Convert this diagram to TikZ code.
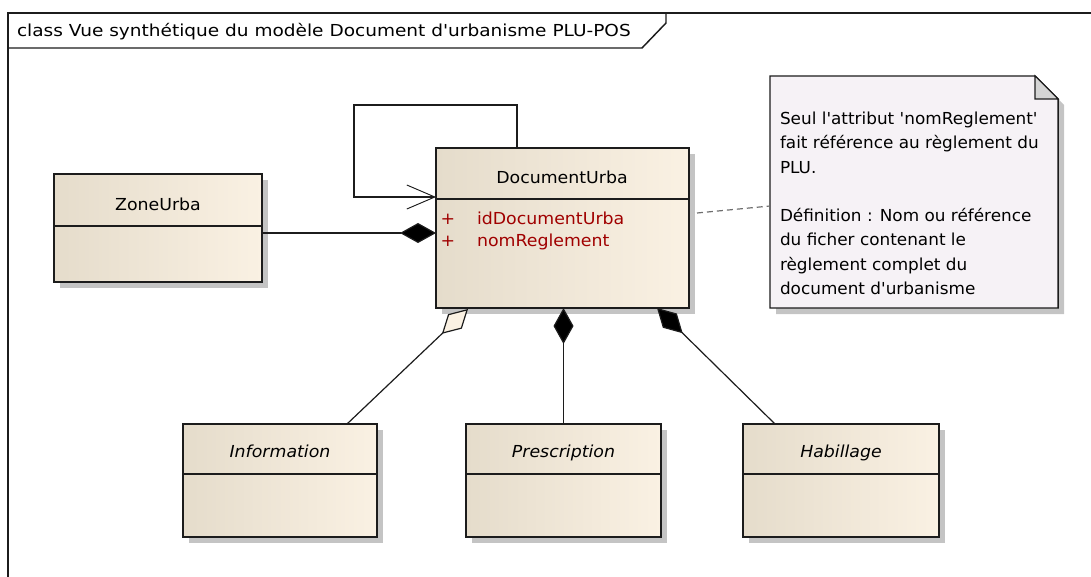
\documentclass[tikz,border=0pt]{standalone}
\usepackage{fontspec}
\setmainfont{DejaVu Sans}[Ligatures=TeXOff, FakeStretch=1.05]
\newfontfamily\headfont{DejaVu Sans}[Ligatures=TeXOff, FakeStretch=1.12]
\newfontfamily\notefont{DejaVu Sans}[Ligatures=TeXOff, FakeStretch=1.02]
\usetikzlibrary{arrows.meta,calc,fit,shadows}

\definecolor{clsL}{RGB}{229,220,203}
\definecolor{clsR}{RGB}{250,241,227}
\definecolor{noteFill}{RGB}{246,242,246}
\definecolor{foldFill}{RGB}{212,212,212}
\definecolor{shadowGray}{RGB}{196,196,196}
\definecolor{attrRed}{RGB}{160,0,0}
\definecolor{lineDark}{RGB}{28,28,28}
\definecolor{dashGray}{RGB}{110,110,110}

% one UML class: #1 name, #2/#3 top-left, #4/#5 bottom-right,
% #6 offset of the compartment line below the top edge
\newcommand{\umlclass}[6]{%
  \node[classbox, fit={(#2,#3) (#4,#5)}] (#1) {};
  \draw[boxline] ($(#1.north west)+(0,#6)$) -- ($(#1.north east)+(0,#6)$);
}

\begin{document}
\begin{tikzpicture}[x=0.75pt,y=-0.75pt,
  every node/.style={inner sep=0pt,outer sep=0pt},
  txt/.style={font=\fontsize{12.4}{18.2}\selectfont},
  abstractname/.style={anchor=base,font=\fontsize{12.4}{14}\selectfont\itshape},
  boxline/.style={draw=lineDark,line width=1.1pt},
  classbox/.style={boxline,shading=axis,left color=clsL,middle color=clsR,right color=clsR,
    drop shadow={shadow xshift=4.5pt,shadow yshift=-4.5pt,fill=shadowGray,opacity=1}},
  link/.style={draw=lineDark,line width=0.9pt},
  compo/.style={link,{Diamond[length=27pt,width=15pt,fill=black]}-},
  aggreg/.style={link,{Diamond[length=27pt,width=15pt,fill=clsR]}-},
  navarrow/.style={link,-{Straight Barb[length=21pt,width=18pt,line width=0.7pt]}},
  notelink/.style={draw=dashGray,line width=0.9pt,dash pattern=on 4.5pt off 3pt},
]
\useasboundingbox (0,0) rectangle (1091,577);

% diagram frame and its title tab
\draw[boxline] (8,578) -- (8,13) -- (1092,13);
\draw[boxline] (8,48) -- (642,48) -- (666,23) -- (666,13);
\node[anchor=base west,font=\headfont\fontsize{12.4}{14}\selectfont] (title) at (17,37)
  {class Vue synthétique du modèle Document d'urbanisme PLU-POS};

% classes
\umlclass{zone}{54}{174}{262}{282}{52}
\node[txt] (zonename) at (158,204) {ZoneUrba};

\umlclass{doc}{436}{148}{689}{308}{51}
\node[txt] (docname) at (562,177) {DocumentUrba};
\node[txt,text=attrRed,anchor=base] (plusA) at (448,224) {+};
\node[txt,text=attrRed,anchor=base west] (attrA) at (477,224) {idDocumentUrba};
\node[txt,text=attrRed,anchor=base] (plusB) at (448,247) {+};
\node[txt,text=attrRed,anchor=base west] (attrB) at (477,247) {nomReglement};

\umlclass{info}{183}{424}{377}{537}{50}
\node[abstractname] (infoname) at (280,457) {Information};

\umlclass{presc}{466}{424}{661}{537}{50}
\node[abstractname] (prescname) at (563.5,457) {Prescription};

\umlclass{habil}{743}{424}{939}{537}{50}
\node[abstractname] (habilname) at (841,457) {Habillage};

% note attached to DocumentUrba
\node[fit={(770,76) (1058,308)}] (note) {};
\fill[shadowGray] (776,82) -- (1041,82) -- (1064,105) -- (1064,314) -- (776,314) -- cycle;
\filldraw[boxline,fill=noteFill] (note.north west) -- ($(note.north east)+(-23,0)$)
  -- ($(note.north east)+(0,23)$) -- (note.south east) -- (note.south west) -- cycle;
\filldraw[draw=lineDark,line width=0.8pt,fill=foldFill] ($(note.north east)+(-23,0)$)
  -- ($(note.north east)+(-23,23)$) -- ($(note.north east)+(0,23)$) -- cycle;
\node[anchor=north west,align=left,font=\notefont\fontsize{12.4}{18.2}\selectfont]
  (notetext) at (780,112)
  {Seul l'attribut 'nomReglement'\\
   fait référence au règlement du\\
   PLU.\\
   \mbox{}\\
   Définition : Nom ou référence\\
   du ficher contenant le\\
   règlement complet du\\
   document d'urbanisme};

% connectors
\draw[navarrow] ($(doc.north west)+(81,0)$) -- ++(0,-43)
  -| ($(doc.north west)+(-82,49)$) -- ($(doc.north west)+(0,49)$);
\draw[compo] ($(doc.north west)+(0,85)$) -- ($(zone.north east)+(0,59)$);
\draw[aggreg] ($(doc.south west)+(32,1)$) -- ($(info.north west)+(164,0)$);
\draw[compo] ($(doc.south west)+(127.5,0)$) -- (presc.north);
\draw[compo] ($(doc.south west)+(221,0)$) -- ($(habil.north west)+(32,0)$);
\draw[notelink] ($(doc.north east)+(8,65)$) -- ($(note.north west)+(0,130)$);
\end{tikzpicture}
\end{document}
